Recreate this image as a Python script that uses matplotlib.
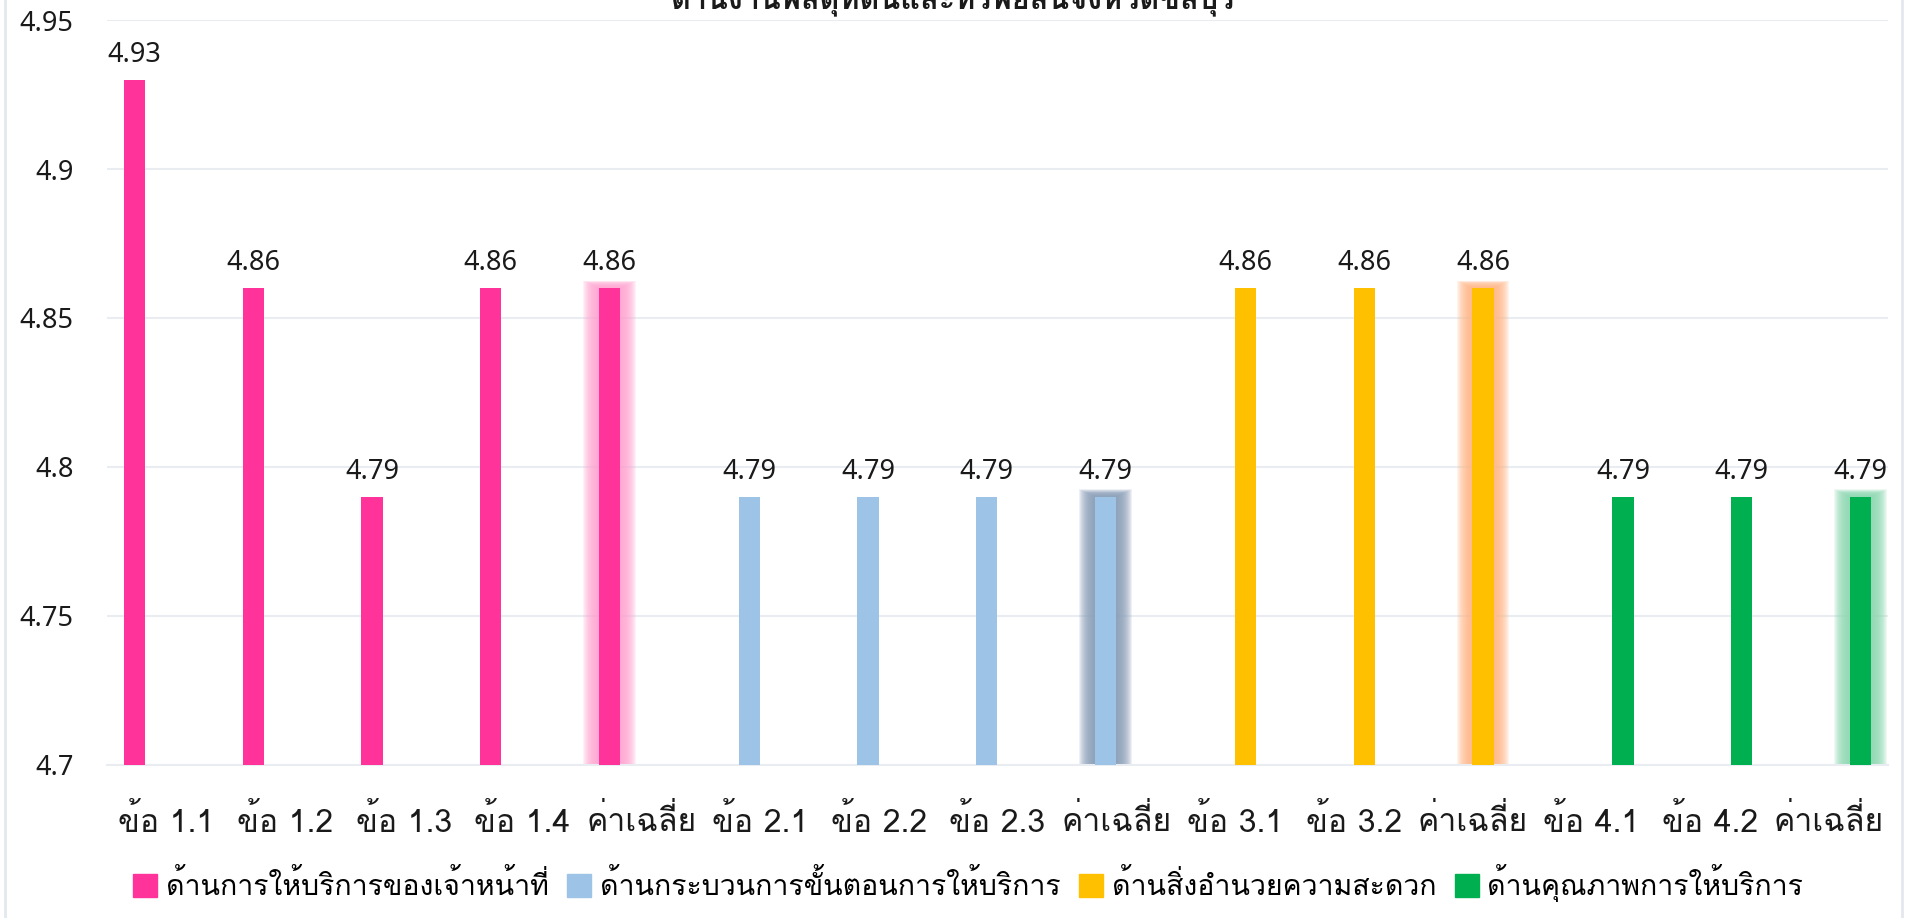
import matplotlib
matplotlib.use("Agg")
import matplotlib.pyplot as plt
import numpy as np

# ---- data ----
categories = ["ข้อ 1.1", "ข้อ 1.2", "ข้อ 1.3", "ข้อ 1.4", "ค่าเฉลี่ย",
              "ข้อ 2.1", "ข้อ 2.2", "ข้อ 2.3", "ค่าเฉลี่ย",
              "ข้อ 3.1", "ข้อ 3.2", "ค่าเฉลี่ย",
              "ข้อ 4.1", "ข้อ 4.2", "ค่าเฉลี่ย"]
series_names = ["ด้านการให้บริการของเจ้าหน้าที่",
                "ด้านกระบวนการขั้นตอนการให้บริการ",
                "ด้านสิ่งอำนวยความสะดวก",
                "ด้านคุณภาพการให้บริการ"]
# value of each category in each series (None = no bar)
service_staff = [4.93, 4.86, 4.79, 4.86, 4.86] + [None] * 10
service_process = [None] * 5 + [4.79, 4.79, 4.79, 4.79] + [None] * 6
facilities = [None] * 9 + [4.86, 4.86, 4.86] + [None] * 3
service_quality = [None] * 12 + [4.79, 4.79, 4.79]
average_idx = [4, 8, 11, 14]
title = "ด้านงานพัสดุที่ดินและทรัพย์สินจังหวัดชลบุรี"
y_ticks = [4.7, 4.75, 4.8, 4.85, 4.9, 4.95]
y_tick_labels = ["4.7", "4.75", "4.8", "4.85", "4.9", "4.95"]

colors = ["#FF3399", "#9DC3E6", "#FFC000", "#00B050"]
glow_colors = ["#FFA6D2", "#8A9FB8", "#FFB98A", "#8ED9B2"]

THAI = ["Loma", "Noto Sans Thai", "DejaVu Sans"]
NUM = ["Noto Sans", "DejaVu Sans"]
TXT = "#1a1a1a"
GRID = "#E9EDF2"
BASE = 4.7

fig = plt.figure(figsize=(19.07, 9.18), dpi=100)
ax = fig.add_axes([0.0561, 0.1667, 0.9339, 0.8115])

series = [service_staff, service_process, facilities, service_quality]
n = len(categories)
x = np.arange(n)
bw = 0.179
for s, vals in enumerate(series):
    off = (s - 1.5) * bw
    for i, v in enumerate(vals):
        if v is None:
            continue
        if i in average_idx:
            # soft halo around the average bar
            steps = 16
            for k in range(steps, 0, -1):
                ax.bar(x[i] + off, v - BASE + 0.00026 * k, bw + 0.0165 * k,
                       bottom=BASE - 0.0001 * k, color=glow_colors[s],
                       alpha=0.15, linewidth=0, zorder=2)
        ax.bar(x[i] + off, v - BASE, bw, bottom=BASE, color=colors[s],
               linewidth=0, zorder=3)
        ax.text(x[i] + off, v + 0.006, f"{v:.2f}", ha="center",
                va="baseline", fontsize=19.5, color=TXT, family=NUM,
                zorder=4)

ax.set_xlim(-0.5, n - 0.5)
ax.set_ylim(BASE, 4.95)
ax.set_yticks(y_ticks)
ax.set_yticklabels(y_tick_labels, fontsize=19.5, color=TXT, family=NUM)
ax.set_xticks(x)
ax.set_xticklabels(categories, fontsize=23, color=TXT, family=THAI)
ax.tick_params(axis="both", length=0)
ax.tick_params(axis="y", pad=24)
ax.tick_params(axis="x", pad=29)
ax.yaxis.grid(True, color=GRID, linewidth=1.5, zorder=0)
ax.set_axisbelow(True)
for sp in ["top", "right", "left"]:
    ax.spines[sp].set_visible(False)
ax.spines["bottom"].set_color(GRID)
ax.spines["bottom"].set_linewidth(1.5)

handles = [plt.Rectangle((0, 0), 1, 1, color=c) for c in colors]
fig.legend(handles, series_names, loc="center",
           bbox_to_anchor=(0.5077, 0.038), ncol=4, frameon=False,
           prop={"family": THAI, "size": 20.5}, handlelength=0.85,
           handleheight=0.85, handletextpad=0.3, columnspacing=0.65)

fig.text(0.5, 1 - 8 / 918, title, ha="center", va="baseline",
         fontsize=22, fontweight="bold", color=TXT, family=THAI)

# chart border
fig.patches.append(plt.Rectangle((0.0025, -0.01), 0.995, 1.02,
                                 transform=fig.transFigure, fill=False,
                                 edgecolor="#E3E8EE", linewidth=2))

fig.savefig("out.png", dpi=100, facecolor="white")
